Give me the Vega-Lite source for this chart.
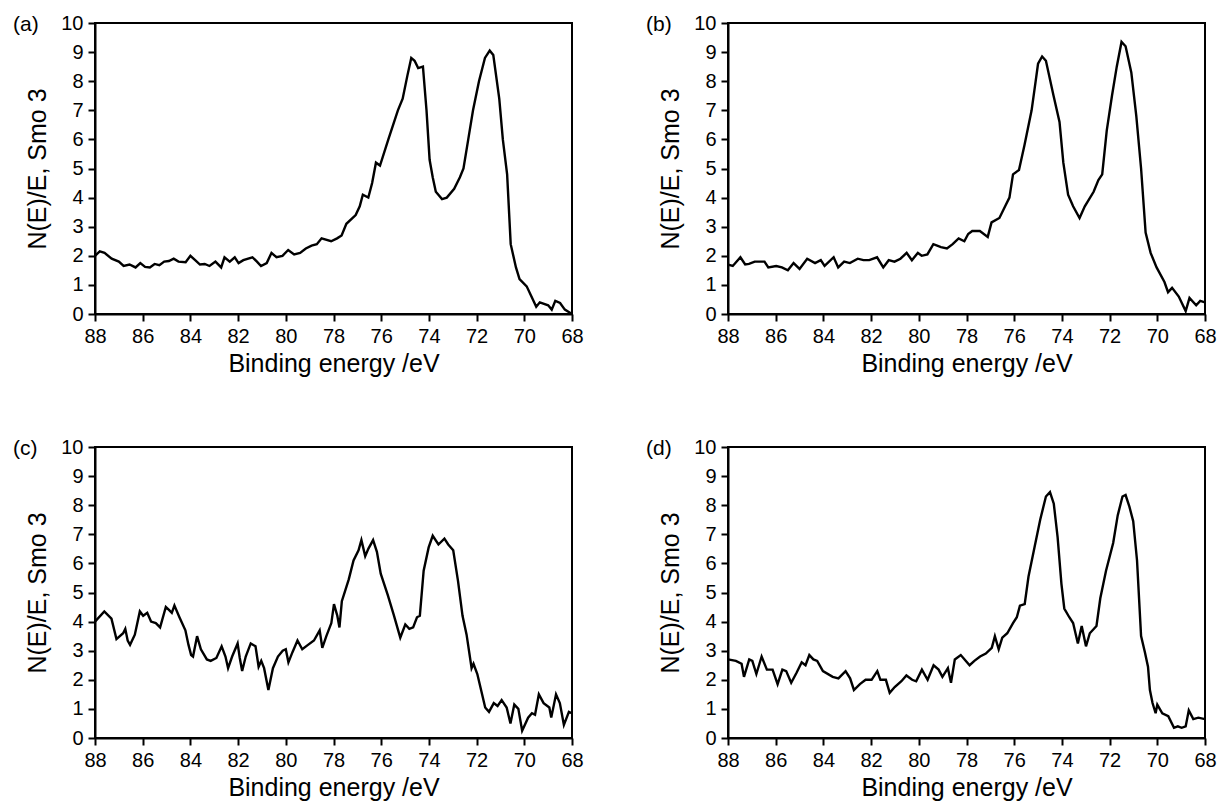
{
"$schema": "https://vega.github.io/schema/vega-lite/v6.json",
"background": "white",
"padding": {"left": 12, "top": 12, "right": 5, "bottom": 0},
"columns": 2,
"spacing": {"row": 59, "column": 60},
"datasets": {
"a": [{"E":88.0,"v":2.0},{"E":87.8,"v":2.15},{"E":87.6,"v":2.1},{"E":87.3,"v":1.9},{"E":87.0,"v":1.8},{"E":86.8,"v":1.65},{"E":86.55,"v":1.7},{"E":86.3,"v":1.6},{"E":86.1,"v":1.75},{"E":85.9,"v":1.62},{"E":85.7,"v":1.6},{"E":85.5,"v":1.72},{"E":85.3,"v":1.68},{"E":85.1,"v":1.8},{"E":84.9,"v":1.82},{"E":84.7,"v":1.9},{"E":84.5,"v":1.8},{"E":84.2,"v":1.78},{"E":84.0,"v":2.0},{"E":83.8,"v":1.85},{"E":83.6,"v":1.7},{"E":83.4,"v":1.72},{"E":83.2,"v":1.65},{"E":82.95,"v":1.8},{"E":82.71,"v":1.6},{"E":82.57,"v":1.95},{"E":82.35,"v":1.8},{"E":82.14,"v":1.95},{"E":81.98,"v":1.75},{"E":81.78,"v":1.85},{"E":81.4,"v":1.95},{"E":81.21,"v":1.8},{"E":81.04,"v":1.65},{"E":80.8,"v":1.75},{"E":80.6,"v":2.1},{"E":80.39,"v":1.95},{"E":80.14,"v":2.0},{"E":79.9,"v":2.2},{"E":79.65,"v":2.05},{"E":79.4,"v":2.1},{"E":79.16,"v":2.25},{"E":78.92,"v":2.35},{"E":78.7,"v":2.4},{"E":78.5,"v":2.6},{"E":78.1,"v":2.5},{"E":77.85,"v":2.6},{"E":77.66,"v":2.7},{"E":77.46,"v":3.1},{"E":77.07,"v":3.4},{"E":76.9,"v":3.7},{"E":76.77,"v":4.1},{"E":76.54,"v":4.0},{"E":76.38,"v":4.5},{"E":76.22,"v":5.2},{"E":76.05,"v":5.1},{"E":75.7,"v":6.0},{"E":75.3,"v":7.0},{"E":75.1,"v":7.4},{"E":74.9,"v":8.2},{"E":74.74,"v":8.8},{"E":74.6,"v":8.7},{"E":74.45,"v":8.45},{"E":74.25,"v":8.5},{"E":74.1,"v":7.0},{"E":73.97,"v":5.3},{"E":73.84,"v":4.7},{"E":73.71,"v":4.2},{"E":73.45,"v":3.95},{"E":73.25,"v":4.0},{"E":72.94,"v":4.3},{"E":72.7,"v":4.7},{"E":72.55,"v":5.0},{"E":72.35,"v":6.0},{"E":72.15,"v":7.0},{"E":71.9,"v":8.0},{"E":71.65,"v":8.8},{"E":71.45,"v":9.05},{"E":71.3,"v":8.9},{"E":71.05,"v":7.4},{"E":70.9,"v":6.0},{"E":70.72,"v":4.8},{"E":70.57,"v":2.4},{"E":70.35,"v":1.6},{"E":70.2,"v":1.2},{"E":69.9,"v":0.95},{"E":69.7,"v":0.6},{"E":69.5,"v":0.25},{"E":69.35,"v":0.4},{"E":69.0,"v":0.3},{"E":68.85,"v":0.15},{"E":68.7,"v":0.45},{"E":68.5,"v":0.38},{"E":68.3,"v":0.15},{"E":68.0,"v":0.0}],
"b": [{"E":88.0,"v":1.7},{"E":87.8,"v":1.65},{"E":87.48,"v":1.95},{"E":87.28,"v":1.7},{"E":87.12,"v":1.72},{"E":86.88,"v":1.8},{"E":86.47,"v":1.8},{"E":86.31,"v":1.6},{"E":85.98,"v":1.65},{"E":85.74,"v":1.6},{"E":85.49,"v":1.5},{"E":85.25,"v":1.75},{"E":85.0,"v":1.55},{"E":84.68,"v":1.9},{"E":84.35,"v":1.75},{"E":84.11,"v":1.85},{"E":83.95,"v":1.65},{"E":83.57,"v":1.95},{"E":83.38,"v":1.6},{"E":83.13,"v":1.8},{"E":82.89,"v":1.75},{"E":82.56,"v":1.9},{"E":82.32,"v":1.85},{"E":82.08,"v":1.85},{"E":81.75,"v":1.95},{"E":81.49,"v":1.6},{"E":81.26,"v":1.85},{"E":81.02,"v":1.8},{"E":80.77,"v":1.9},{"E":80.51,"v":2.1},{"E":80.29,"v":1.85},{"E":80.04,"v":2.1},{"E":79.88,"v":2.0},{"E":79.64,"v":2.05},{"E":79.39,"v":2.4},{"E":79.23,"v":2.35},{"E":79.07,"v":2.3},{"E":78.82,"v":2.25},{"E":78.58,"v":2.4},{"E":78.33,"v":2.6},{"E":78.09,"v":2.5},{"E":77.93,"v":2.75},{"E":77.76,"v":2.85},{"E":77.44,"v":2.85},{"E":77.11,"v":2.65},{"E":76.95,"v":3.15},{"E":76.62,"v":3.3},{"E":76.38,"v":3.7},{"E":76.2,"v":4.0},{"E":76.05,"v":4.8},{"E":75.8,"v":4.95},{"E":75.57,"v":5.8},{"E":75.27,"v":7.0},{"E":75.1,"v":8.0},{"E":75.0,"v":8.6},{"E":74.83,"v":8.85},{"E":74.67,"v":8.7},{"E":74.35,"v":7.5},{"E":74.1,"v":6.6},{"E":73.94,"v":5.2},{"E":73.74,"v":4.1},{"E":73.53,"v":3.7},{"E":73.26,"v":3.3},{"E":73.04,"v":3.7},{"E":72.67,"v":4.2},{"E":72.47,"v":4.6},{"E":72.31,"v":4.8},{"E":72.12,"v":6.3},{"E":71.9,"v":7.5},{"E":71.7,"v":8.5},{"E":71.5,"v":9.35},{"E":71.33,"v":9.2},{"E":71.09,"v":8.3},{"E":70.88,"v":6.8},{"E":70.68,"v":5.0},{"E":70.49,"v":2.8},{"E":70.28,"v":2.1},{"E":70.03,"v":1.6},{"E":69.7,"v":1.1},{"E":69.55,"v":0.75},{"E":69.38,"v":0.9},{"E":69.1,"v":0.6},{"E":68.81,"v":0.1},{"E":68.65,"v":0.55},{"E":68.37,"v":0.3},{"E":68.2,"v":0.45},{"E":68.0,"v":0.4}],
"c": [{"E":88.0,"v":4.0},{"E":87.61,"v":4.35},{"E":87.31,"v":4.1},{"E":87.1,"v":3.4},{"E":86.82,"v":3.6},{"E":86.73,"v":3.75},{"E":86.63,"v":3.35},{"E":86.53,"v":3.2},{"E":86.33,"v":3.55},{"E":86.12,"v":4.35},{"E":85.98,"v":4.2},{"E":85.81,"v":4.3},{"E":85.65,"v":4.0},{"E":85.45,"v":3.95},{"E":85.27,"v":3.8},{"E":85.03,"v":4.5},{"E":84.9,"v":4.4},{"E":84.78,"v":4.3},{"E":84.67,"v":4.55},{"E":84.46,"v":4.15},{"E":84.21,"v":3.7},{"E":84.08,"v":3.2},{"E":83.97,"v":2.85},{"E":83.89,"v":2.8},{"E":83.72,"v":3.5},{"E":83.56,"v":3.05},{"E":83.31,"v":2.7},{"E":83.15,"v":2.65},{"E":82.91,"v":2.75},{"E":82.69,"v":3.15},{"E":82.53,"v":2.8},{"E":82.42,"v":2.4},{"E":82.25,"v":2.8},{"E":82.02,"v":3.25},{"E":81.93,"v":2.75},{"E":81.83,"v":2.3},{"E":81.68,"v":2.8},{"E":81.47,"v":3.25},{"E":81.27,"v":3.15},{"E":81.14,"v":2.45},{"E":81.03,"v":2.65},{"E":80.91,"v":2.4},{"E":80.73,"v":1.65},{"E":80.54,"v":2.4},{"E":80.33,"v":2.8},{"E":80.13,"v":3.0},{"E":80.0,"v":3.05},{"E":79.89,"v":2.6},{"E":79.72,"v":2.95},{"E":79.51,"v":3.35},{"E":79.31,"v":3.05},{"E":79.07,"v":3.2},{"E":78.82,"v":3.35},{"E":78.58,"v":3.7},{"E":78.47,"v":3.1},{"E":78.3,"v":3.5},{"E":78.09,"v":3.95},{"E":77.98,"v":4.6},{"E":77.84,"v":4.2},{"E":77.75,"v":3.8},{"E":77.65,"v":4.7},{"E":77.36,"v":5.45},{"E":77.16,"v":6.1},{"E":76.95,"v":6.45},{"E":76.83,"v":6.8},{"E":76.67,"v":6.25},{"E":76.54,"v":6.5},{"E":76.34,"v":6.8},{"E":76.18,"v":6.4},{"E":76.02,"v":5.65},{"E":75.72,"v":4.9},{"E":75.48,"v":4.25},{"E":75.2,"v":3.45},{"E":74.99,"v":3.9},{"E":74.82,"v":3.75},{"E":74.66,"v":3.8},{"E":74.5,"v":4.15},{"E":74.38,"v":4.2},{"E":74.22,"v":5.75},{"E":74.01,"v":6.55},{"E":73.84,"v":6.95},{"E":73.6,"v":6.65},{"E":73.35,"v":6.85},{"E":73.19,"v":6.65},{"E":72.98,"v":6.45},{"E":72.78,"v":5.4},{"E":72.59,"v":4.2},{"E":72.42,"v":3.55},{"E":72.21,"v":2.4},{"E":72.13,"v":2.55},{"E":71.97,"v":2.2},{"E":71.77,"v":1.5},{"E":71.64,"v":1.05},{"E":71.48,"v":0.9},{"E":71.28,"v":1.2},{"E":71.12,"v":1.1},{"E":70.95,"v":1.3},{"E":70.74,"v":1.05},{"E":70.58,"v":0.5},{"E":70.42,"v":1.15},{"E":70.25,"v":1.0},{"E":70.09,"v":0.25},{"E":69.84,"v":0.7},{"E":69.68,"v":0.85},{"E":69.55,"v":0.8},{"E":69.39,"v":1.5},{"E":69.19,"v":1.2},{"E":68.95,"v":1.05},{"E":68.87,"v":0.7},{"E":68.67,"v":1.5},{"E":68.51,"v":1.2},{"E":68.34,"v":0.45},{"E":68.13,"v":0.9},{"E":68.0,"v":0.85}],
"d": [{"E":88.0,"v":2.7},{"E":87.67,"v":2.65},{"E":87.43,"v":2.55},{"E":87.33,"v":2.1},{"E":87.11,"v":2.7},{"E":86.98,"v":2.65},{"E":86.81,"v":2.2},{"E":86.59,"v":2.8},{"E":86.37,"v":2.35},{"E":86.13,"v":2.35},{"E":85.92,"v":1.85},{"E":85.72,"v":2.35},{"E":85.56,"v":2.3},{"E":85.35,"v":1.9},{"E":85.12,"v":2.25},{"E":84.91,"v":2.6},{"E":84.75,"v":2.5},{"E":84.59,"v":2.85},{"E":84.42,"v":2.7},{"E":84.26,"v":2.65},{"E":84.02,"v":2.3},{"E":83.61,"v":2.1},{"E":83.37,"v":2.05},{"E":83.07,"v":2.3},{"E":82.88,"v":2.05},{"E":82.72,"v":1.65},{"E":82.47,"v":1.85},{"E":82.23,"v":2.0},{"E":81.98,"v":2.0},{"E":81.74,"v":2.3},{"E":81.61,"v":2.0},{"E":81.38,"v":2.0},{"E":81.22,"v":1.55},{"E":81.01,"v":1.75},{"E":80.73,"v":1.95},{"E":80.52,"v":2.15},{"E":80.28,"v":2.0},{"E":80.11,"v":1.95},{"E":79.87,"v":2.35},{"E":79.63,"v":2.0},{"E":79.38,"v":2.5},{"E":79.17,"v":2.35},{"E":79.01,"v":2.1},{"E":78.78,"v":2.4},{"E":78.65,"v":1.9},{"E":78.49,"v":2.7},{"E":78.24,"v":2.85},{"E":78.08,"v":2.7},{"E":77.87,"v":2.5},{"E":77.67,"v":2.65},{"E":77.43,"v":2.8},{"E":77.19,"v":2.9},{"E":76.94,"v":3.1},{"E":76.81,"v":3.5},{"E":76.65,"v":3.05},{"E":76.5,"v":3.45},{"E":76.29,"v":3.6},{"E":76.05,"v":3.95},{"E":75.89,"v":4.15},{"E":75.76,"v":4.55},{"E":75.56,"v":4.6},{"E":75.4,"v":5.55},{"E":75.15,"v":6.55},{"E":74.91,"v":7.5},{"E":74.67,"v":8.3},{"E":74.5,"v":8.45},{"E":74.34,"v":8.05},{"E":74.18,"v":6.9},{"E":74.02,"v":5.3},{"E":73.9,"v":4.45},{"E":73.69,"v":4.15},{"E":73.53,"v":3.95},{"E":73.33,"v":3.25},{"E":73.17,"v":3.85},{"E":72.99,"v":3.15},{"E":72.83,"v":3.6},{"E":72.55,"v":3.85},{"E":72.39,"v":4.8},{"E":72.15,"v":5.75},{"E":71.85,"v":6.7},{"E":71.66,"v":7.65},{"E":71.46,"v":8.3},{"E":71.33,"v":8.35},{"E":71.17,"v":7.95},{"E":71.01,"v":7.45},{"E":70.85,"v":6.1},{"E":70.68,"v":3.5},{"E":70.52,"v":2.95},{"E":70.39,"v":2.45},{"E":70.31,"v":1.65},{"E":70.2,"v":1.2},{"E":70.07,"v":0.85},{"E":70.0,"v":1.15},{"E":69.79,"v":0.85},{"E":69.54,"v":0.75},{"E":69.3,"v":0.35},{"E":69.14,"v":0.4},{"E":68.98,"v":0.35},{"E":68.81,"v":0.4},{"E":68.68,"v":0.95},{"E":68.49,"v":0.65},{"E":68.28,"v":0.7},{"E":68.0,"v":0.65}]
},
"concat": [
{"width": 477, "height": 291, "title": {"text": "(a)"}, "data": {"name": "a"},
 "mark": {"type": "line", "color": "black", "strokeWidth": 2.4},
 "encoding": {
  "x": {"field": "E", "type": "quantitative", "scale": {"domain": [68, 88], "reverse": true, "nice": false, "zero": false}, "axis": {"values": [68,70,72,74,76,78,80,82,84,86,88], "title": "Binding energy /eV"}},
  "y": {"field": "v", "type": "quantitative", "scale": {"domain": [0, 10], "nice": false}, "axis": {"values": [0,1,2,3,4,5,6,7,8,9,10], "title": "N(E)/E, Smo 3"}}}},
{"width": 477, "height": 291, "title": {"text": "(b)"}, "data": {"name": "b"},
 "mark": {"type": "line", "color": "black", "strokeWidth": 2.4},
 "encoding": {
  "x": {"field": "E", "type": "quantitative", "scale": {"domain": [68, 88], "reverse": true, "nice": false, "zero": false}, "axis": {"values": [68,70,72,74,76,78,80,82,84,86,88], "title": "Binding energy /eV"}},
  "y": {"field": "v", "type": "quantitative", "scale": {"domain": [0, 10], "nice": false}, "axis": {"values": [0,1,2,3,4,5,6,7,8,9,10], "title": "N(E)/E, Smo 3"}}}},
{"width": 477, "height": 291, "title": {"text": "(c)"}, "data": {"name": "c"},
 "mark": {"type": "line", "color": "black", "strokeWidth": 2.4},
 "encoding": {
  "x": {"field": "E", "type": "quantitative", "scale": {"domain": [68, 88], "reverse": true, "nice": false, "zero": false}, "axis": {"values": [68,70,72,74,76,78,80,82,84,86,88], "title": "Binding energy /eV"}},
  "y": {"field": "v", "type": "quantitative", "scale": {"domain": [0, 10], "nice": false}, "axis": {"values": [0,1,2,3,4,5,6,7,8,9,10], "title": "N(E)/E, Smo 3"}}}},
{"width": 477, "height": 291, "title": {"text": "(d)"}, "data": {"name": "d"},
 "mark": {"type": "line", "color": "black", "strokeWidth": 2.4},
 "encoding": {
  "x": {"field": "E", "type": "quantitative", "scale": {"domain": [68, 88], "reverse": true, "nice": false, "zero": false}, "axis": {"values": [68,70,72,74,76,78,80,82,84,86,88], "title": "Binding energy /eV"}},
  "y": {"field": "v", "type": "quantitative", "scale": {"domain": [0, 10], "nice": false}, "axis": {"values": [0,1,2,3,4,5,6,7,8,9,10], "title": "N(E)/E, Smo 3"}}}}
],
"config": {
 "font": "Liberation Sans",
 "view": {"stroke": "black", "strokeWidth": 2},
 "axis": {"domainColor": "black", "domainWidth": 2, "tickColor": "black", "tickWidth": 2, "tickSize": 7, "labelFont": "Liberation Sans", "labelFontSize": 20, "labelColor": "black", "labelPadding": 5, "labelFlush": false, "titleFont": "Liberation Sans", "titleFontSize": 25, "titleFontWeight": "normal", "titleColor": "black", "grid": false},
 "axisY": {"titlePadding": 10},
 "axisX": {"titlePadding": 5},
 "title": {"anchor": "start", "frame": "group", "fontSize": 21, "fontWeight": "normal", "font": "Liberation Sans", "color": "black", "dx": -82, "dy": 26, "baseline": "middle", "offset": 0}
}
}
